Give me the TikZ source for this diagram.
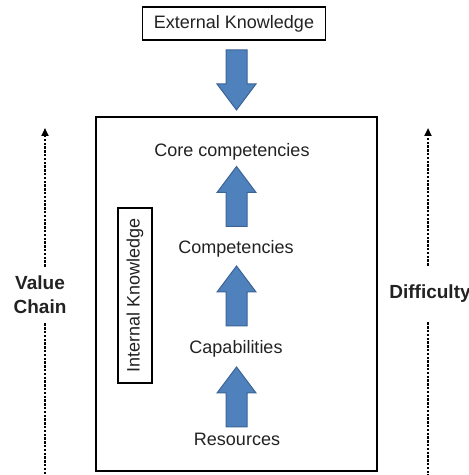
\documentclass[tikz,border=0pt]{standalone}
\usepackage{fontspec}
\setmainfont{Liberation Sans}
\usetikzlibrary{arrows.meta}

\definecolor{arrowblue}{HTML}{4F81BD}
\definecolor{arrowedge}{HTML}{3B6496}
\definecolor{inkgray}{HTML}{222222}

\tikzset{
  stage/.style={font=\fontsize{9}{11}\selectfont, text=inkgray, inner sep=1pt},
  side/.style={font=\fontsize{9.5}{12}\selectfont\bfseries, text=inkgray, align=center,
    inner sep=2pt, minimum height=28pt},
  dotline/.style={line width=1pt, dash pattern=on 1.2pt off 0.7pt},
  upblock/.pic={
    \draw[fill=arrowblue, draw=arrowedge, line width=0.5pt]
      (-10.5,-30) -- (-10.5,4) -- (-19.5,4) -- (0,30) -- (19.5,4) -- (10.5,4) -- (10.5,-30) -- cycle;
  }
}

\begin{document}
\begin{tikzpicture}[x=0.5pt,y=0.5pt]
    \useasboundingbox (0,0) rectangle (468,475);

    % boxes
    \node[stage, draw, line width=0.8pt, minimum width=91.5pt, minimum height=16.5pt] (ext) at (234,451.5) {External Knowledge};
    \node[draw, line width=1.1pt, minimum width=140.5pt, minimum height=177pt] (firm) at (236.5,181) {};
    \node[stage, draw, line width=0.6pt, rotate=90, minimum width=87.5pt, minimum height=17pt] (intk) at (135,179.5) {Internal Knowledge};

    % the ladder inside the firm
    \foreach \name/\x/\y/\txt in {res/237/36/Resources, cap/236/126/Capabilities,
        comp/236/226/Competencies, core/232/323/Core competencies} {
      \node[stage] (\name) at (\x,\y) {\txt};
    }
    \foreach \y in {78,179,278.5} {
      \pic at (236.5,\y) {upblock};
    }
    \pic[rotate=180] at (236.5,395) {upblock};

    % side scales
    \node[side] (vc) at (40,180) {Value\\Chain};
    \coordinate (vtop) at (45,347);
    \coordinate (vbot) at (45,0);
    \draw[dotline,-{Triangle[width=3.5pt,length=4pt]}] (vtop |- vc.north) -- (vtop);
    \draw[dotline] (vtop |- vc.south) -- (vbot);

    \node[side] (diff) at (430,181) {Difficulty};
    \coordinate (dtop) at (428,347);
    \coordinate (dbot) at (428,0);
    \draw[dotline,-{Triangle[width=3.5pt,length=4pt]}] (dtop |- diff.north) -- (dtop);
    \draw[dotline] (dtop |- diff.south) -- (dbot);
\end{tikzpicture}
\end{document}
